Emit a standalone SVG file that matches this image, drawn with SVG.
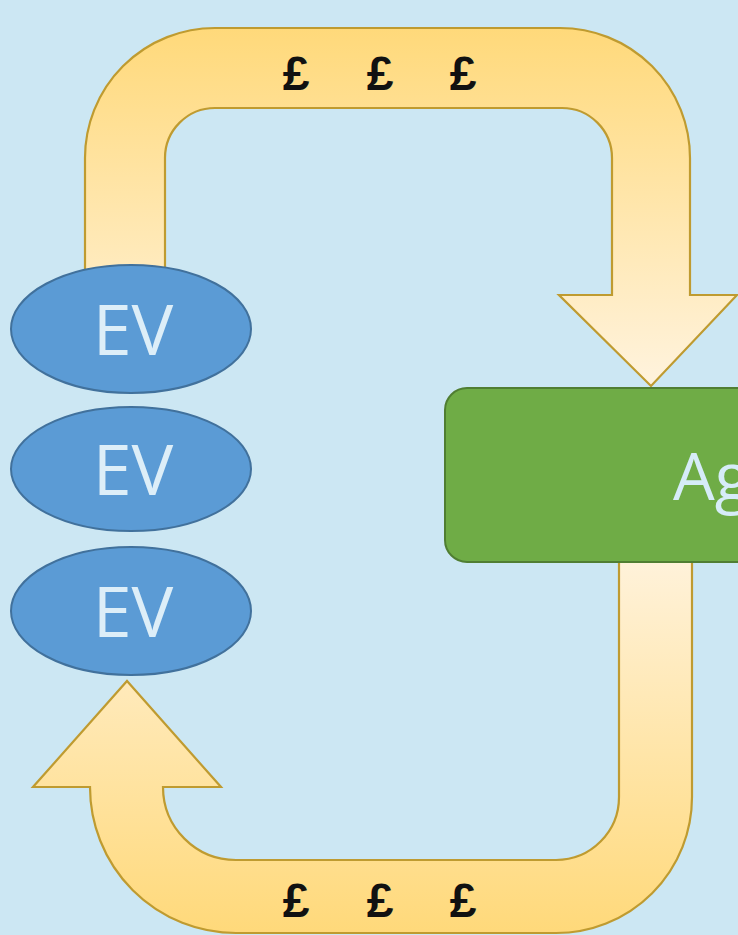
<svg xmlns="http://www.w3.org/2000/svg" width="738" height="935" viewBox="0 0 738 935">
  <defs>
    <linearGradient id="gTop" gradientUnits="userSpaceOnUse" x1="0" y1="28" x2="0" y2="386">
      <stop offset="0" stop-color="#ffd97a"/>
      <stop offset="1" stop-color="#fff3de"/>
    </linearGradient>
    <linearGradient id="gBot" gradientUnits="userSpaceOnUse" x1="0" y1="560" x2="0" y2="933">
      <stop offset="0" stop-color="#fff2da"/>
      <stop offset="1" stop-color="#ffd97a"/>
    </linearGradient>
  </defs>
  <style>
    .arrow { stroke: #bf9b30; stroke-width: 2.2; stroke-linejoin: miter; }
    .ev { fill: #5b9bd5; stroke: #41719c; stroke-width: 2; }
    .evt { font-family: "Open Sans", "Liberation Sans", sans-serif; font-size: 70px; fill: #ddeef8; text-anchor: middle; }
    .money { font-family: "Liberation Sans", Arial, sans-serif; font-weight: bold; font-size: 48px; fill: #111; text-anchor: middle; }
    .box { fill: #6fac46; stroke: #507e32; stroke-width: 2; }
    .boxt { font-family: "Open Sans", "Liberation Sans", sans-serif; font-size: 66px; fill: #d6ecf8; }
  </style>
  <rect x="0" y="0" width="738" height="935" fill="#cce7f3"/>

  <g id="connectors">
    <g id="payment-top">
      <path class="arrow" fill="url(#gTop)" d="M 85 290 L 85 158 A 130 130 0 0 1 215 28 L 560 28 A 130 130 0 0 1 690 158 L 690 295 L 737 295 L 651 386 L 559 295 L 612 295 L 612 158 A 50 50 0 0 0 562 108 L 215 108 A 50 50 0 0 0 165 158 L 165 290 Z"/>
      <text class="money" x="296 338 380 422 463" y="90">£ £ £</text>
    </g>
    <g id="payment-bottom">
      <path class="arrow" fill="url(#gBot)" d="M 619 555 L 692 555 L 692 797 A 136 136 0 0 1 556 933 L 236 933 A 146 146 0 0 1 90 787 L 33 787 L 127 681 L 221 787 L 163 787 A 73 73 0 0 0 236 860 L 556 860 A 63 63 0 0 0 619 797 Z"/>
      <text class="money" x="296 338 380 422 463" y="917">£ £ £</text>
    </g>
  </g>

  <g id="ev1">
    <ellipse class="ev" cx="131" cy="329" rx="120" ry="64"/>
    <text class="evt" x="133" y="355">EV</text>
  </g>
  <g id="ev2">
    <ellipse class="ev" cx="131" cy="469" rx="120" ry="62"/>
    <text class="evt" x="133" y="495">EV</text>
  </g>
  <g id="ev3">
    <ellipse class="ev" cx="131" cy="611" rx="120" ry="64"/>
    <text class="evt" x="133" y="637">EV</text>
  </g>

  <g id="aggregator">
    <rect class="box" x="445" y="388" width="400" height="174" rx="22" ry="22"/>
    <text class="boxt" x="673" y="500">Ag</text>
  </g>
</svg>
